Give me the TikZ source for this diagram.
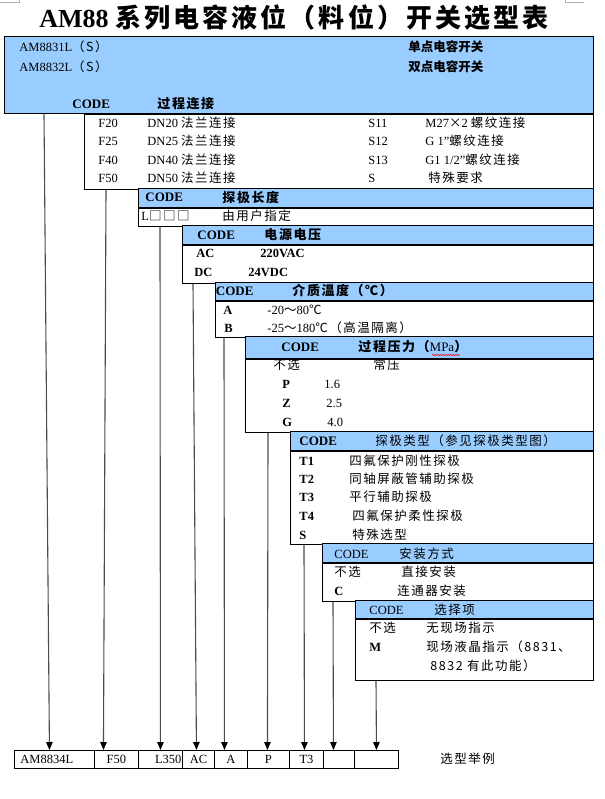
\documentclass[tikz,border=0pt]{standalone}
\usepackage{fontspec}
\setmainfont{Liberation Serif}
\newfontfamily\cjk{Noto Sans CJK SC}[LetterSpace=12]
\newfontfamily\cjkn{Noto Sans CJK SC}
\usetikzlibrary{positioning,arrows.meta,decorations.pathmorphing}
\definecolor{paleblue}{RGB}{153,204,255}

\begin{document}
\begin{tikzpicture}[
	x=1pt, y=-1pt,
	line width=0.9pt,
	font=\fontsize{12.5}{14}\selectfont
]
\tikzset{
    bluebar/.style = {draw=black, fill=paleblue, anchor=north west, inner sep=0},
    whitebox/.style = {draw=black, fill=white, inner sep=0},
    txt/.style = {anchor=west, inner sep=0},
    head/.style = {anchor=west, inner sep=0, font=\fontsize{13}{15}\selectfont\bfseries},
    cell/.style = {draw=black, anchor=north west, inner sep=0, minimum height=18pt},
    feed/.style = {draw=black!70, line width=1.1pt, -{Triangle[length=8pt,width=6.5pt,black]}},
}
\useasboundingbox (0,0) rectangle (604,799);
\draw[black!30, line width=0.6pt] (0,2.5) -- (19,2.5) -- (19,0);
\draw[black!30, line width=0.6pt] (565,0) -- (565,2.5) -- (584,2.5);

\node (title) at (294,18) {\fontsize{26}{30}\selectfont\bfseries AM88 {\cjk 系列电容液位（料位）开关选型表}};

% model and process connection
\node (model) [bluebar, minimum width=589pt, minimum height=77pt] at (4,36) {};
\node (m1) [txt] at (19,47) {AM8831L{\cjk（S）}};
\node (m2) [txt] at (19,67) {AM8832L{\cjk（S）}};
\node (m3) [txt] at (408,47) {\cjkn\bfseries 单点电容开关};
\node (m4) [txt] at (408,67) {\cjkn\bfseries 双点电容开关};
\node (code1) [head] at (72,104) {CODE};
\node (conntitle) [head] at (157,104) {\cjk 过程连接};

\node (conn) [whitebox, minimum width=509pt, minimum height=75pt, below right=0pt and 0pt of model.south west, xshift=80pt] {};
\node (f20) [txt] at (98,123) {F20};
\node (dn20) [txt] at (147,123) {DN20 {\cjk 法兰连接}};
\node (s11) [txt] at (368,123) {S11};
\node (m27) [txt] at (425,123) {M27{\cjk ×}2 {\cjk 螺纹连接}};
\node (f25) [txt] at (98,141) {F25};
\node (dn25) [txt] at (147,141) {DN25 {\cjk 法兰连接}};
\node (s12) [txt] at (368,141) {S12};
\node (g1) [txt] at (425,141) {G 1"{\cjk 螺纹连接}};
\node (f40) [txt] at (98,160) {F40};
\node (dn40) [txt] at (147,160) {DN40 {\cjk 法兰连接}};
\node (s13) [txt] at (368,160) {S13};
\node (g12) [txt] at (425,160) {G1 1/2"{\cjk 螺纹连接}};
\node (f50) [txt] at (98,178) {F50};
\node (dn50) [txt] at (147,178) {DN50 {\cjk 法兰连接}};
\node (sc) [txt] at (368,178) {S};
\node (scd) [txt] at (428,178) {\cjk 特殊要求};

% probe length
\node (lenhead) [bluebar, minimum width=455pt, minimum height=19pt] at (138,188) {};
\node (code2) [head] at (145,197.5) {CODE};
\node (lentitle) [head] at (222,197.5) {\cjk 探极长度};
\node (len) [whitebox, minimum width=455pt, minimum height=18pt, below right=0pt and 0pt of lenhead.south west] {};
\node (lcode) [txt] at (141,216) {L{\cjk □□□}};
\node (lcoded) [txt] at (222,216) {\cjk 由用户指定};

% supply voltage
\node (pwrhead) [bluebar, minimum width=411pt, minimum height=19pt] at (182,225) {};
\node (code3) [head] at (197,235) {CODE};
\node (pwrtitle) [head] at (264,235) {\cjk 电源电压};
\node (pwr) [whitebox, minimum width=411pt, minimum height=38pt, below right=0pt and 0pt of pwrhead.south west] {};
\node (ac) [txt] at (196,253) {\bfseries AC};
\node (acd) [txt] at (260,253) {\bfseries 220VAC};
\node (dc) [txt] at (194,272) {\bfseries DC};
\node (dcd) [txt] at (248,272) {\bfseries 24VDC};

% medium temperature
\node (temphead) [bluebar, minimum width=378pt, minimum height=18pt] at (215,282) {};
\node (code4) [head] at (215.5,291) {CODE};
\node (temptitle) [head] at (292,291) {\cjk 介质温度（℃）};
\node (temp) [whitebox, minimum width=378pt, minimum height=36pt, below right=0pt and 0pt of temphead.south west] {};
\node (ta) [txt] at (223,310) {\bfseries A};
\node (tad) [txt] at (267,310) {-20{\cjk ～}80{\cjk ℃}};
\node (tb) [txt] at (224,328) {\bfseries B};
\node (tbd) [txt] at (267,328) {-25{\cjk ～}180{\cjk ℃（高温隔离）}};

% process pressure
\node (preshead) [bluebar, minimum width=348pt, minimum height=22pt] at (245,336) {};
\node (code5) [head] at (281,347) {CODE};
\node (prestitle) [head] at (358,347) {{\cjk 过程压力（}{\mdseries MPa}{\cjk ）}};
\draw[red, line width=0.5pt, decorate, decoration={snake, amplitude=0.7pt, segment length=2.6pt}] (432,355) -- (460,355);
\node (pres) [whitebox, minimum width=348pt, minimum height=73pt, below right=0pt and 0pt of preshead.south west] {};
\node (pn) [txt] at (273,365) {\cjk 不选};
\node (pnd) [txt] at (373,365) {\cjk 常压};
\node (pp) [txt] at (282,384) {\bfseries P};
\node (ppd) [txt] at (324,384) {1.6};
\node (pz) [txt] at (282,403) {\bfseries Z};
\node (pzd) [txt] at (326,403) {2.5};
\node (pg) [txt] at (282,422) {\bfseries G};
\node (pgd) [txt] at (327,422) {4.0};

% probe type
\node (probehead) [bluebar, minimum width=303pt, minimum height=19pt] at (290,431) {};
\node (code6) [head] at (299,441) {CODE};
\node (probetitle) [txt] at (375,441) {\cjk 探极类型（参见探极类型图）};
\node (probe) [whitebox, minimum width=303pt, minimum height=93pt, below right=0pt and 0pt of probehead.south west] {};
\node (t1) [txt] at (299,461) {\bfseries T1};
\node (t1d) [txt] at (349,461) {\cjk 四氟保护刚性探极};
\node (t2) [txt] at (299,479) {\bfseries T2};
\node (t2d) [txt] at (349,479) {\cjk 同轴屏蔽管辅助探极};
\node (t3) [txt] at (299,497) {\bfseries T3};
\node (t3d) [txt] at (349,497) {\cjk 平行辅助探极};
\node (t4) [txt] at (299,516) {\bfseries T4};
\node (t4d) [txt] at (352,516) {\cjk 四氟保护柔性探极};
\node (ts) [txt] at (299,535) {\bfseries S};
\node (tsd) [txt] at (352,535) {\cjk 特殊选型};

% mounting
\node (mounthead) [bluebar, minimum width=271pt, minimum height=19pt] at (322,543) {};
\node (code7) [txt] at (334,554) {CODE};
\node (mounttitle) [txt] at (399,554) {\cjk 安装方式};
\node (mount) [whitebox, minimum width=271pt, minimum height=38pt, below right=0pt and 0pt of mounthead.south west] {};
\node (mn) [txt] at (334,572) {\cjk 不选};
\node (mnd) [txt] at (401,572) {\cjk 直接安装};
\node (mc) [txt] at (334,591) {\bfseries C};
\node (mcd) [txt] at (397,591) {\cjk 连通器安装};

% options
\node (opthead) [bluebar, minimum width=238pt, minimum height=18pt] at (355,600) {};
\node (code8) [txt] at (369,610) {CODE};
\node (opttitle) [txt] at (434,610) {\cjk 选择项};
\node (opt) [whitebox, minimum width=238pt, minimum height=61pt, below right=0pt and 0pt of opthead.south west] {};
\node (on) [txt] at (369,628) {\cjk 不选};
\node (ond) [txt] at (426,628) {\cjk 无现场指示};
\node (om) [txt] at (369,647) {\bfseries M};
\node (omd) [txt] at (426,647) {\cjk 现场液晶指示（8831、};
\node (omd2) [txt] at (430,666) {\cjk 8832 有此功能）};

% example row
\node (c1) [cell, minimum width=80pt] at (14,750) {};
\node (c2) [cell, minimum width=44pt] at (94,750) {F50};
\node (c3) [cell, minimum width=44pt] at (138,750) {};
\node (c4) [cell, minimum width=32pt] at (182,750) {AC};
\node (c5) [cell, minimum width=33pt] at (214,750) {A};
\node (c6) [cell, minimum width=42pt] at (247,750) {P};
\node (c7) [cell, minimum width=34pt] at (289,750) {T3};
\node (c8) [cell, minimum width=31pt] at (323,750) {};
\node (c9) [cell, minimum width=44pt] at (354,750) {};
\node (ex1) [txt, right=6pt of c1.west] {AM8834L};
\node (ex3) [txt, left=1pt of c3.east, anchor=east] {L350};
\node (extitle) [txt] at (440,759) {\cjk 选型举例};

\draw[feed] ([xshift=40pt]model.south west) -- ([xshift=-5pt]c1.north);
\draw[feed] ([xshift=22pt]conn.south west) -- ([xshift=-13pt]c2.north);
\draw[feed] ([xshift=22pt]len.south west) -- (c3.north);
\draw[feed] ([xshift=11pt]pwr.south west) -- ([xshift=-2pt]c4.north);
\draw[feed] ([xshift=9pt]temp.south west) -- ([xshift=-6.5pt]c5.north);
\draw[feed] ([xshift=23pt]pres.south west) -- ([xshift=-1pt]c6.north);
\draw[feed] ([xshift=14pt]probe.south west) -- ([xshift=-2pt]c7.north);
\draw[feed] ([xshift=11pt]mount.south west) -- ([xshift=-5.5pt]c8.north);
\draw[feed] ([xshift=21pt]opt.south west) -- (c9.north);
\end{tikzpicture}
\end{document}
